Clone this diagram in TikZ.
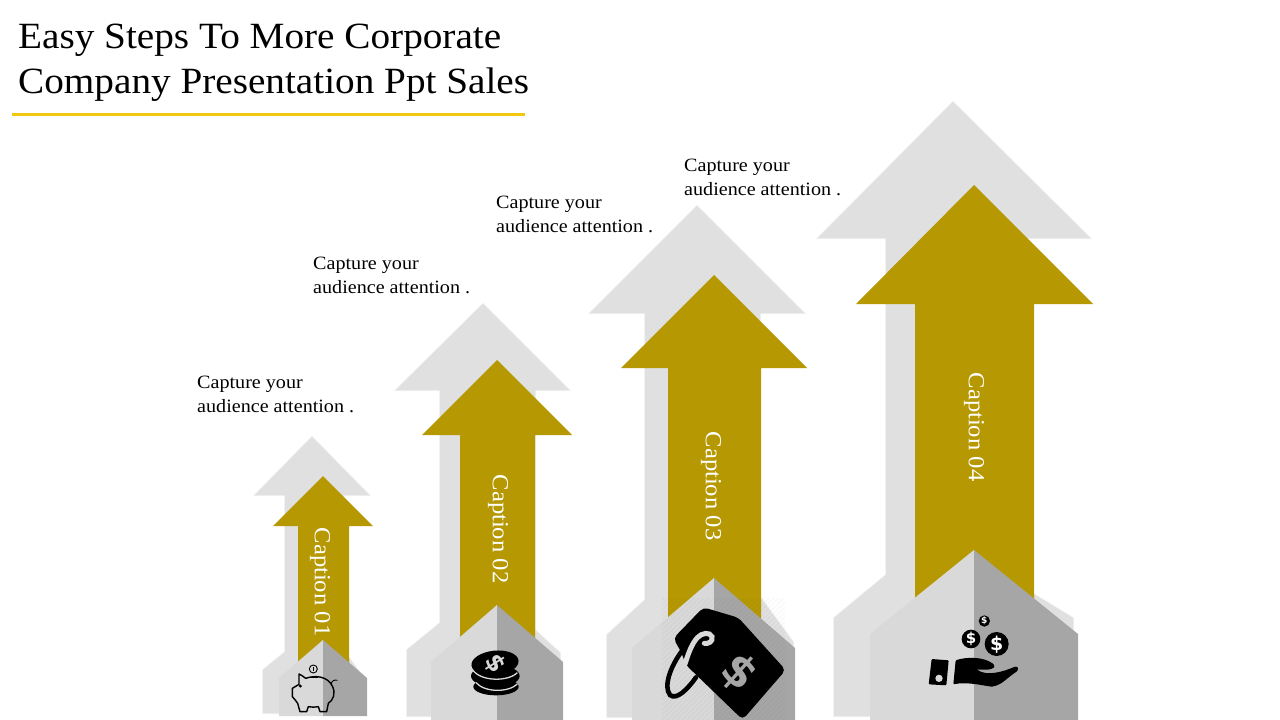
\documentclass[tikz,border=0pt]{standalone}
\usepackage{fontspec}
\setmainfont{Liberation Serif}
\newfontfamily\titlefont[FakeStretch=1.06]{Liberation Serif}
\newfontfamily\bodyfont[FakeStretch=1.07]{Liberation Serif}
\newfontfamily\iconfont{DejaVu Sans}
\definecolor{gold}{HTML}{B59802}
\definecolor{shade}{HTML}{E0E0E0}
\definecolor{houseL}{HTML}{D9D9D9}
\definecolor{houseR}{HTML}{A6A6A6}
\definecolor{rulecol}{HTML}{F2C80F}
\tikzset{
  shadowshape/.style={fill=shade,line join=round,preaction={draw=shade,opacity=.3,line width=2pt},preaction={draw=shade,opacity=.5,line width=1pt}},
  goldarrow/.style={fill=gold},
  leftface/.style={fill=houseL},
  rightface/.style={fill=houseR},
  note/.style={font=\bodyfont\fontsize{18.8}{24}\selectfont,align=left,anchor=north west,inner sep=0pt,text=black},
  caplabel/.style={font=\bodyfont\fontsize{23}{24}\selectfont,text=white,rotate=-90,inner sep=0pt},
  zoomone/.style={shift={(240,600)},x=0.33333pt,y=-0.33333pt},
  zoomtwo/.style={shift={(620,570)},x=0.33333pt,y=-0.33333pt},
  zoomthree/.style={shift={(820,540)},x=0.33333pt,y=-0.33333pt},
  dollar/.style={inner sep=0pt}
}
\begin{document}
\begin{tikzpicture}[x=1pt,y=-1pt]
\useasboundingbox (0,0) rectangle (1280,720);
% shadows
\path[shadowshape] (312,437) -- (369,495) -- (343,495) -- (343,650) -- (363,677) -- (363,713) -- (263,713) -- (263,670) -- (285,652) -- (285,495) -- (255,495) -- cycle;
\path[shadowshape] (483,304) -- (569,390) -- (535,390) -- (535,630) -- (560,653) -- (560,716) -- (407,716) -- (407,650) -- (440,623) -- (440,390) -- (396,390) -- cycle;
\path[shadowshape] (697,206) -- (804,313) -- (760,313) -- (760,597) -- (793,642) -- (793,717) -- (607,717) -- (607,635) -- (645,600) -- (645,313) -- (590,313) -- cycle;
\path[shadowshape] (953,102) -- (1090,238) -- (1022,238) -- (1022,587) -- (1073,618) -- (1073,716) -- (834,716) -- (834,618) -- (886,575) -- (886,238) -- (818,238) -- cycle;
% gold arrows
\path[goldarrow] (323,476) -- (373,526) -- (349,526) -- (349,690) -- (298,690) -- (298,526) -- (273,526) -- cycle;
\path[goldarrow] (497,360) -- (572,435) -- (535,435) -- (535,670) -- (460,670) -- (460,435) -- (422,435) -- cycle;
\path[goldarrow] (714,275) -- (807,368) -- (761,368) -- (761,650) -- (668,650) -- (668,368) -- (621,368) -- cycle;
\path[goldarrow] (974,185) -- (1093,304) -- (1034,304) -- (1034,640) -- (915,640) -- (915,304) -- (856,304) -- cycle;
% houses
\path[leftface] (323,640) -- (323,716) -- (279,716) -- (279,678) -- cycle;
\path[rightface] (323,640) -- (367,678) -- (367,716) -- (323,716) -- cycle;
\path[leftface] (497,605) -- (497,720) -- (431,720) -- (431,662) -- cycle;
\path[rightface] (497,605) -- (563,662) -- (563,720) -- (497,720) -- cycle;
\path[leftface] (714,578) -- (714,720) -- (632,720) -- (632,648) -- cycle;
\path[rightface] (714,578) -- (795,648) -- (795,720) -- (714,720) -- cycle;
\path[leftface] (974,550) -- (974,720) -- (870,720) -- (870,634) -- cycle;
\path[rightface] (974,550) -- (1078,634) -- (1078,720) -- (974,720) -- cycle;
% faint hatching behind the tag
\begin{scope}
\clip (662,598) rectangle (785,720);
\foreach \k in {0,5,...,250}{
  \draw[black,opacity=.022,line width=1.5pt] (662+\k-125,720) -- (662+\k,595);
}
\end{scope}
% piggy
\begin{scope}[zoomone]
\draw[line width=1.4pt,line join=round] (177,222) .. controls (185,225) and (190,230) .. (197,235) .. controls (225,225) and (262,228) .. (277,258) .. controls (288,280) and (280,300) .. (265,310) -- (260,335) -- (240,335) -- (235,320) .. controls (225,322) and (215,322) .. (205,320) -- (200,335) -- (180,335) -- (173,310) .. controls (168,303) and (163,296) .. (157,290) -- (157,265) -- (177,253) -- cycle;
\draw[line width=.9pt] (220,207) circle (12);
\draw[line width=.8pt] (220,202) -- (220,212);
\draw[line width=1.2pt] (206,232) -- (235,232);
\draw[line width=.9pt] (274,255) .. controls (272,242) and (285,238) .. (292,241);
\fill (181,258) circle (5);
\end{scope}
% coins
\begin{scope}[zoomone]
\fill (768,260) ellipse (68 and 26);
\fill (766,228) ellipse (73 and 33);
\draw[houseL,line width=1.3pt] (708,248) .. controls (735,278) and (805,278) .. (832,252);
\draw[houseL,line width=1.3pt] (700,212) .. controls (725,245) and (805,245) .. (832,218);
\fill[rotate around={6:(765,189)}] (765,189) ellipse (71 and 37);
\node[dollar,text=houseL,font=\iconfont\bfseries\fontsize{24}{24}\selectfont,rotate=-58] (coinmark) at (765,190) {\$};
\end{scope}
% tag
\begin{scope}[zoomtwo]
\fill[rounded corners=4.7pt] (250,112) -- (355,143) -- (497,300) -- (368,449) -- (198,285) -- (183,245) -- (160,205) -- cycle;
\draw[line width=4.6pt,line cap=round] (188,240) .. controls (150,290) and (130,350) .. (150,375) .. controls (170,392) and (205,355) .. (228,322);
\draw[houseL,line width=5pt,line cap=round] (195,282) .. controls (205,250) and (215,222) .. (232,203) .. controls (245,188) and (270,185) .. (276,200) .. controls (280,215) and (265,222) .. (253,220);
\node[dollar,text=houseR,font=\iconfont\bfseries\fontsize{44}{44}\selectfont,rotate=-42] (tagmark) at (358,308) {\$};
\end{scope}
% hand
\begin{scope}[zoomthree]
\fill[rounded corners=1pt] (335,357) -- (386,361) -- (379,436) -- (326,433) -- cycle;
\fill[houseL] (357,415) circle (11);
\fill[rounded corners=1pt] (407,361) .. controls (440,350) and (490,350) .. (520,372) .. controls (530,385) and (510,392) .. (470,388) .. controls (500,410) and (550,395) .. (585,380) .. controls (597,380) and (595,392) .. (585,398) .. controls (560,415) and (545,435) .. (515,440) .. controls (480,435) and (440,425) .. (400,433) -- cycle;
\fill (453,297) circle (28);
\fill (530,312) circle (36);
\fill (493,243) circle (17);
\node[dollar,text=white,font=\iconfont\bfseries\fontsize{15}{15}\selectfont] (handa) at (453,297) {\$};
\node[dollar,text=white,font=\iconfont\bfseries\fontsize{19}{19}\selectfont] (handb) at (530,313) {\$};
\node[dollar,text=white,font=\iconfont\bfseries\fontsize{9}{9}\selectfont] (handc) at (493,243) {\$};
\end{scope}
% title
\node[font=\titlefont\fontsize{37}{45}\selectfont,align=left,anchor=north west,inner sep=0pt] (title) at (18,24) {Easy Steps To More Corporate\\Company Presentation Ppt Sales};
\draw[rulecol,line width=2.5pt] (12,114.5) -- (525,114.5);
% notes
\node[note] (n1) at (197,376) {Capture your\\audience attention .};
\node[note] (n2) at (313,257) {Capture your\\audience attention .};
\node[note] (n3) at (496,196) {Capture your\\audience attention .};
\node[note] (n4) at (684,159) {Capture your\\audience attention .};
% captions
\node[caplabel] (c1) at (320,582) {Caption 01};
\node[caplabel] (c2) at (498,529) {Caption 02};
\node[caplabel] (c3) at (711,486) {Caption 03};
\node[caplabel] (c4) at (974,427) {Caption 04};
\end{tikzpicture}
\end{document}
